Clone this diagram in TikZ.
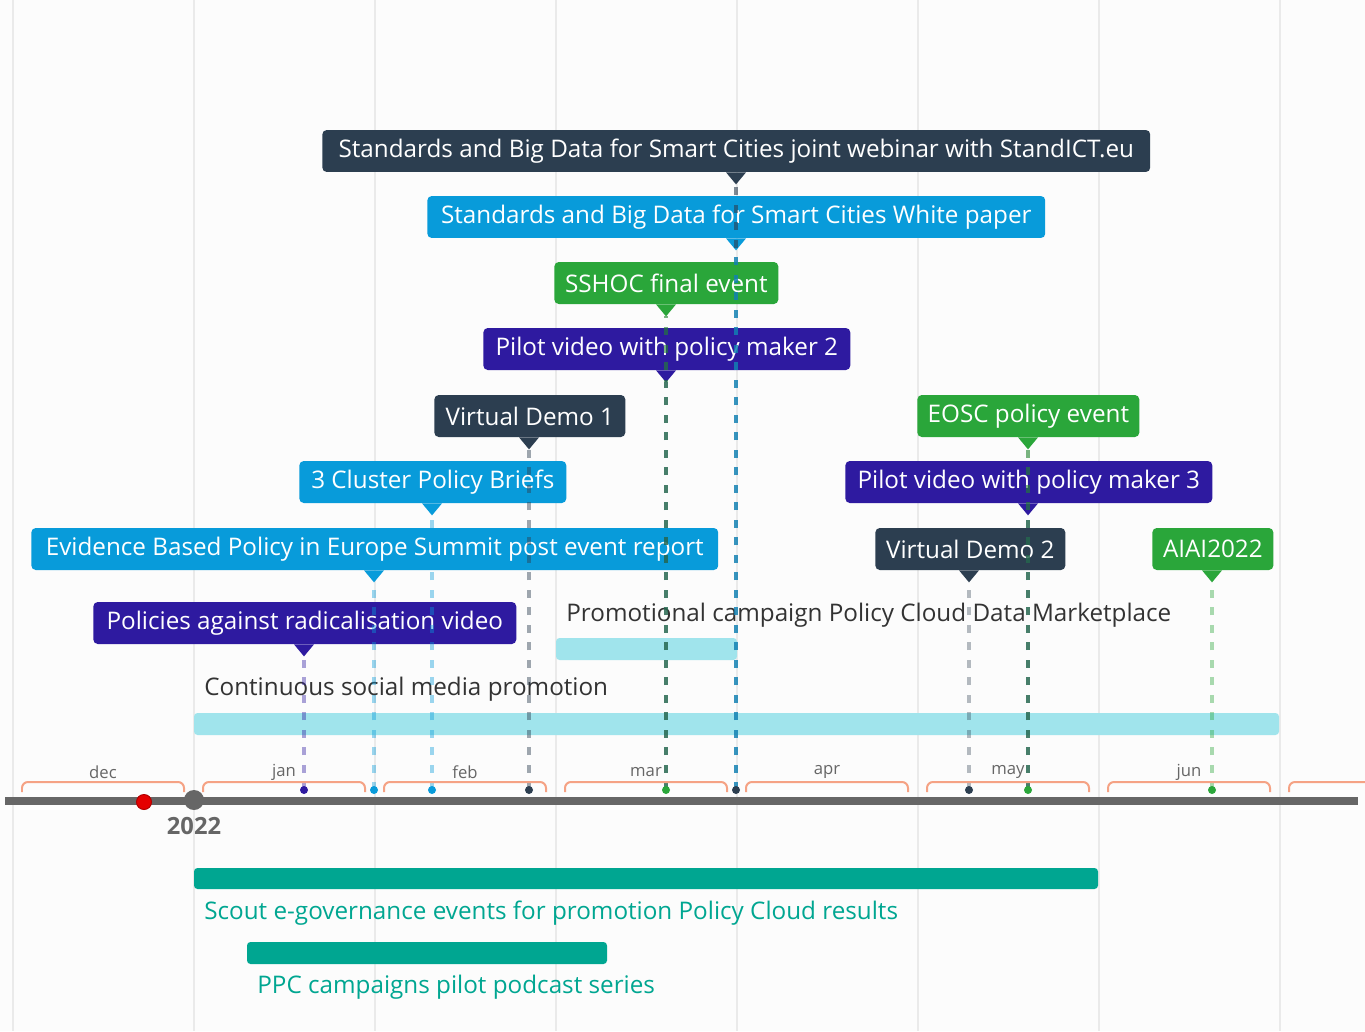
\documentclass[tikz,border=0pt]{standalone}
\usepackage{fontspec}
\setmainfont{Open Sans}

\definecolor{bg}{RGB}{252,252,252}
\definecolor{gridgray}{RGB}{234,234,234}
\definecolor{axisgray}{RGB}{102,102,102}
\definecolor{evdark}{RGB}{44,62,80}
\definecolor{evblue}{RGB}{8,155,218}
\definecolor{evgreen}{RGB}{42,166,58}
\definecolor{evindigo}{RGB}{46,26,160}
\definecolor{barcyan}{RGB}{160,228,236}
\definecolor{barteal}{RGB}{0,166,145}
\definecolor{bracket}{RGB}{245,162,132}

% pointer under a box, with a named tip coordinate (boxname-tip)
\newcommand\evtip[3]{%
  \fill[#3] (#1.south -| #2) ++(-10,0) -- ++(10,12) -- ++(10,-12) -- cycle;
  \path (#1.south -| #2) ++(0,12) coordinate (#1-tip);}

\begin{document}
\begin{tikzpicture}[x=0.02cm, y=-0.02cm,
  evbox/.style={draw=none, rounded corners=2.5pt, text=white, minimum height=0.84cm,
    anchor=west, inner sep=0pt, font=\fontsize{13.8}{16}\selectfont},
  stem/.style={dash pattern=on 0.16cm off 0.19cm, line width=0.07cm, opacity=0.6},
  evdot/.style={circle, inner sep=0pt, minimum size=0.16cm},
  rangebar/.style={rounded corners=2pt},
  rangetext/.style={anchor=west, inner sep=0pt, font=\fontsize{13.8}{16}\selectfont},
  monthtext/.style={text=axisgray, font=\fontsize{9.5}{12}\selectfont}]
\useasboundingbox[fill=bg] (0,0) rectangle (1365,1031);

% grid
\foreach \x in {13,194,375,556,737,918,1099,1280}
  \draw[gridgray, line width=0.03cm] (\x,0) -- (\x,1031);

% event points on the axis
\coordinate (dRadical) at (304,790);
\coordinate (dSummit) at (374,790);
\coordinate (dBriefs) at (432,790);
\coordinate (dDemoA) at (529,790);
\coordinate (dSshoc) at (666,790);
\coordinate (dWeb) at (736,790);
\coordinate (dDemoB) at (969,790);
\coordinate (dEosc) at (1028,790);
\coordinate (dAiai) at (1212,790);

% ranges
\node (promo)[rangetext, text=black!80] at (566,615) {Promotional campaign Policy Cloud Data Marketplace};
\fill[barcyan, rangebar] (556,638) rectangle (737,660);
\node (social)[rangetext, text=black!80] at (204,689) {Continuous social media promotion};
\fill[barcyan, rangebar] (194,713) rectangle (1279,735);
\fill[barteal, rangebar] (194,868) rectangle (1098,889);
\node (scout)[rangetext, text=barteal] at (204,913) {Scout e-governance events for promotion Policy Cloud results};
\fill[barteal, rangebar] (247,942) rectangle (607,964);
\node (podcast)[rangetext, text=barteal] at (257,987) {PPC campaigns pilot podcast series};

% event boxes
\node (web)[evbox, fill=evdark, minimum width=16.56cm] at (322,151) {Standards and Big Data for Smart Cities joint webinar with StandICT.eu};
\node (paper)[evbox, fill=evblue, minimum width=12.36cm] at (427,217) {Standards and Big Data for Smart Cities White paper};
\node (sshoc)[evbox, fill=evgreen, minimum width=4.48cm] at (554,283) {SSHOC final event};
\node (pilotB)[evbox, fill=evindigo, minimum width=7.34cm] at (483,349) {Pilot video with policy maker 2};
\node (demoA)[evbox, fill=evdark, minimum width=3.82cm] at (434,416) {Virtual Demo 1};
\node (eosc)[evbox, fill=evgreen, minimum width=4.44cm] at (917,416) {EOSC policy event};
\node (briefs)[evbox, fill=evblue, minimum width=5.34cm] at (299,482) {3 Cluster Policy Briefs};
\node (pilotC)[evbox, fill=evindigo, minimum width=7.34cm] at (845,482) {Pilot video with policy maker 3};
\node (summit)[evbox, fill=evblue, minimum width=13.74cm] at (31,549) {Evidence Based Policy in Europe Summit post event report};
\node (demoB)[evbox, fill=evdark, minimum width=3.80cm] at (875,549) {Virtual Demo 2};
\node (aiai)[evbox, fill=evgreen, minimum width=2.42cm] at (1152,549) {AIAI2022};
\node (radical)[evbox, fill=evindigo, minimum width=8.46cm] at (93,623) {Policies against radicalisation video};

\evtip{web}{dWeb}{evdark}
\evtip{paper}{dWeb}{evblue}
\evtip{sshoc}{dSshoc}{evgreen}
\evtip{pilotB}{dSshoc}{evindigo}
\evtip{demoA}{dDemoA}{evdark}
\evtip{eosc}{dEosc}{evgreen}
\evtip{briefs}{dBriefs}{evblue}
\evtip{pilotC}{dEosc}{evindigo}
\evtip{summit}{dSummit}{evblue}
\evtip{demoB}{dDemoB}{evdark}
\evtip{aiai}{dAiai}{evgreen}
\evtip{radical}{dRadical}{evindigo}

% stems, drawn upward from the axis so shared ones keep the same dashes
\draw[stem, evdark] (dWeb) -- (web-tip);
\draw[stem, evblue] (dWeb) -- (paper-tip);
\draw[stem, evindigo] (dSshoc) -- (pilotB-tip);
\draw[stem, evgreen!80!black] (dSshoc) -- (sshoc-tip);
\draw[stem, evdark, opacity=0.45] (dDemoA) -- (demoA-tip);
\draw[stem, evindigo] (dEosc) -- (pilotC-tip);
\draw[stem, evgreen!80!black] (dEosc) -- (eosc-tip);
\draw[stem, evblue, opacity=0.4] (dBriefs) -- (briefs-tip);
\draw[stem, evblue, opacity=0.4] (dSummit) -- (summit-tip);
\draw[stem, evdark, opacity=0.35] (dDemoB) -- (demoB-tip);
\draw[stem, evgreen, opacity=0.4] (dAiai) -- (aiai-tip);
\draw[stem, evindigo, opacity=0.4] (dRadical) -- (radical-tip);

% months
\foreach \m [count=\i from 0] in {dec,jan,feb,mar,apr,may,jun} {
  \draw[bracket, line width=0.04cm, rounded corners=0.12cm] (22+181*\i,792) -- (22+181*\i,782) -- (184+181*\i,782) -- (184+181*\i,792);
  \node[monthtext] at (103+181*\i,772) {\m};
}
\draw[bracket, line width=0.04cm, rounded corners=0.12cm] (1289,792) -- (1289,782) -- (1365,782);

% axis
\draw[axisgray, line width=0.16cm] (5,801) -- (1358,801);
\node (today)[circle, fill=red!90!black, draw=red!70!black, line width=0.02cm, minimum size=0.3cm, inner sep=0pt] at (144,802) {};
\node (start)[circle, fill=axisgray, minimum size=0.4cm, inner sep=0pt] at (194,800) {};
\node (year)[text=axisgray, font=\fontsize{13.5}{15}\selectfont\bfseries] at (194,826) {2022};

% dots
\node[evdot, fill=evindigo] at (dRadical) {};
\node[evdot, fill=evblue] at (dSummit) {};
\node[evdot, fill=evblue] at (dBriefs) {};
\node[evdot, fill=evdark] at (dDemoA) {};
\node[evdot, fill=evgreen] at (dSshoc) {};
\node[evdot, fill=evdark] at (dWeb) {};
\node[evdot, fill=evdark] at (dDemoB) {};
\node[evdot, fill=evgreen] at (dEosc) {};
\node[evdot, fill=evgreen] at (dAiai) {};
\end{tikzpicture}
\end{document}
